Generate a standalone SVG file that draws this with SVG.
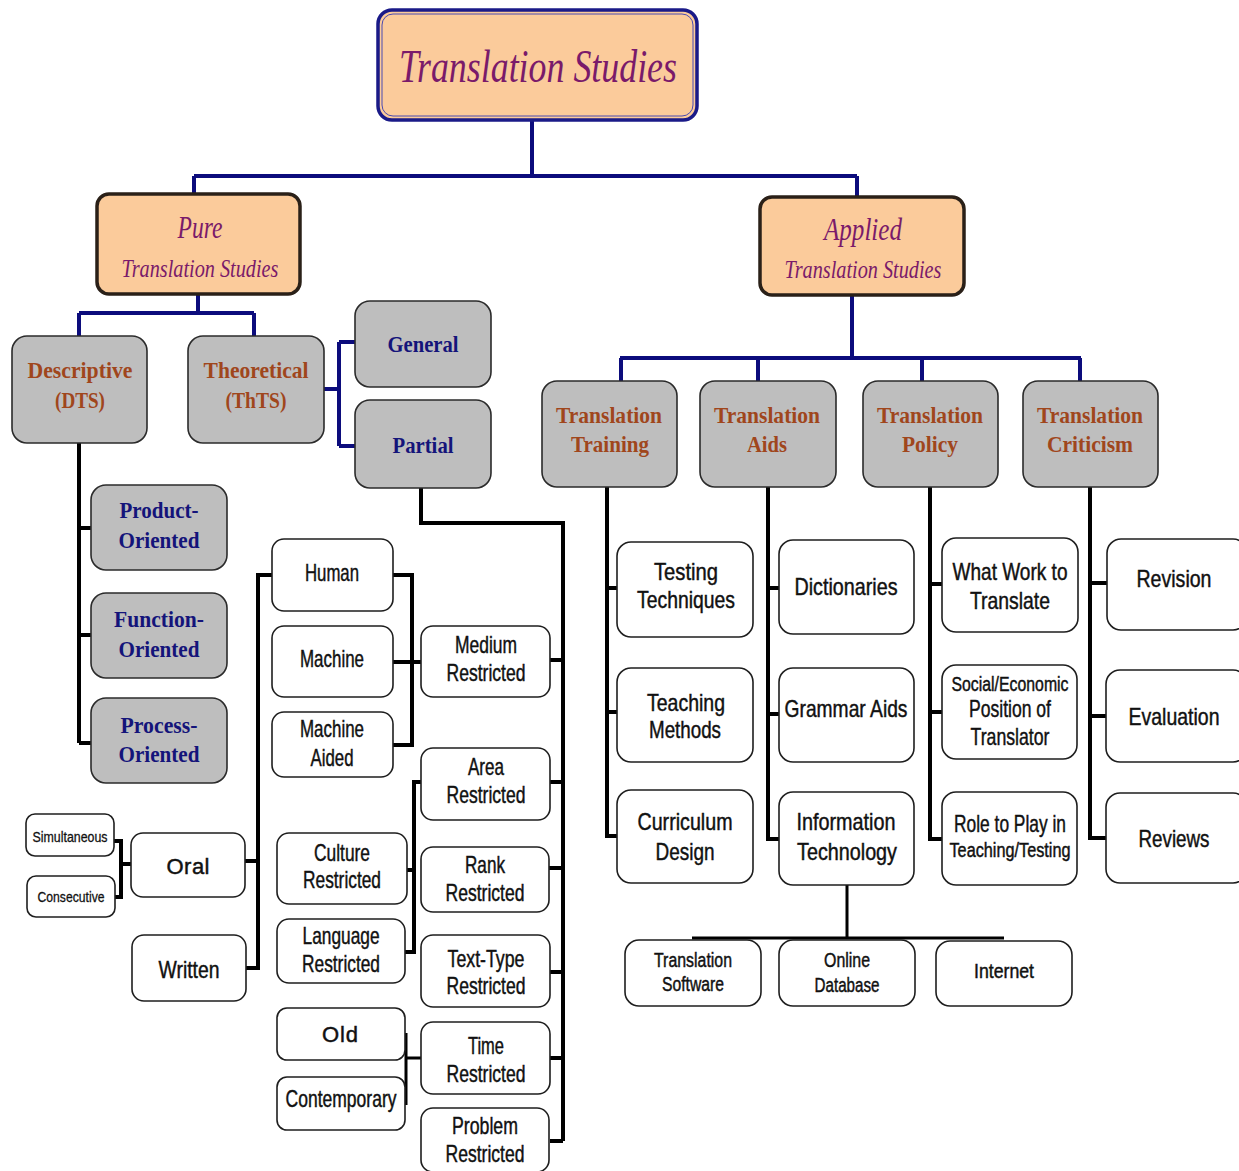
<svg xmlns="http://www.w3.org/2000/svg" width="1239" height="1171" viewBox="0 0 1239 1171">
<style>
.tc{fill:#FBCB9B;stroke:#1a1a88;stroke-width:3.5}
.tci{fill:none;stroke:#4a4ab0;stroke-width:1}
.pc{fill:#FBCB9B;stroke:#2a2018;stroke-width:3.5}
.gb{fill:#BEBEBE;stroke:#2b2b2b;stroke-width:1.6}
.wb{fill:#fff;stroke:#1e1e1e;stroke-width:1.6}
.nv{stroke:#0c0c7c;stroke-width:4;fill:none}
.bk{stroke:#000;stroke-width:4;fill:none}
.bt{stroke:#000;stroke-width:3;fill:none}
.ts{font-family:"Liberation Serif","DejaVu Serif",serif;font-style:italic;fill:#7a1a6a;text-anchor:middle}
.hb{font-family:"Liberation Serif","DejaVu Serif",serif;font-weight:bold;fill:#A0461C;text-anchor:middle;font-size:24px}
.nb{font-family:"Liberation Serif","DejaVu Serif",serif;font-weight:bold;fill:#14147a;text-anchor:middle;font-size:24px}
.wt{font-family:"Liberation Sans Narrow","Liberation Sans",sans-serif;font-size:24px;fill:#111;stroke:#111;stroke-width:0.45;text-anchor:middle}
.sm{font-size:18px}
.md{font-size:20px}
.wd{font-size:22px}
.xs{font-size:15px;stroke-width:0.3}
</style>
<rect width="1239" height="1171" fill="#fff"/>
<g id="connectors">
<path class="nv" d="M532 120 V176 M194 176 H857 M194 176 V194 M857 176 V197"/>
<path class="nv" d="M198 294 V313 M79 313 H254 M79 313 V336 M254 313 V336"/>
<path class="nv" d="M324 389 H339 M339 342 V446 M339 342 H355 M339 446 H355"/>
<path class="nv" d="M852 296 V358 M620 358 H1081 M621 358 V381 M758 358 V381 M922 358 V381 M1080 358 V381"/>
<path class="bk" d="M79 443 V743 M79 528 H92 M79 635 H92 M79 743 H92"/>
<path class="bk" d="M421 488 V523 H563 V1141 M550 660 H563 M550 782 H563 M549 868 H563 M550 972 H563 M550 1058 H563 M550 1141 H563"/>
<path class="bk" d="M393 575 H412 V745 H393 M393 662 H421"/>
<path class="bk" d="M421 782 H414 V952 H405 M407 870 H414"/>
<path class="bt" d="M406 1033 V1105 M406 1058 H421"/>
<path class="bk" d="M272 575 H258 V968 H246 M245 861 H258"/>
<path class="bk" d="M114 841 H121 V897 H115 M121 864 H132"/>
<path class="bk" d="M607 487 V836 H618 M607 588 H617 M607 712 H617"/>
<path class="bk" d="M768 487 V839 H779 M768 588 H779 M768 714 H779"/>
<path class="bk" d="M930 487 V839 H942 M930 584 H942 M930 712 H942"/>
<path class="bk" d="M1090 487 V838 H1106 M1090 583 H1107 M1090 716 H1106"/>
<path class="bt" d="M847 885 V938 M692 938 H1004"/>
</g>
<g id="translation-studies">
<rect class="tc" x="378" y="10" width="319" height="110" rx="14"/>
<rect class="tci" x="382" y="14" width="311" height="102" rx="11"/>
<text class="ts" x="538" y="82" font-size="46" textLength="278" lengthAdjust="spacingAndGlyphs">Translation Studies</text>
</g>
<g id="pure">
<rect class="pc" x="97" y="194" width="203" height="100" rx="12"/>
<text class="ts" x="200" y="238" font-size="32" textLength="45" lengthAdjust="spacingAndGlyphs">Pure</text>
<text class="ts" x="200" y="277" font-size="26" textLength="157" lengthAdjust="spacingAndGlyphs">Translation Studies</text>
</g>
<g id="applied">
<rect class="pc" x="760" y="197" width="204" height="98" rx="12"/>
<text class="ts" x="863" y="240" font-size="32" textLength="78" lengthAdjust="spacingAndGlyphs">Applied</text>
<text class="ts" x="863" y="278" font-size="26" textLength="157" lengthAdjust="spacingAndGlyphs">Translation Studies</text>
</g>
<g id="descriptive">
<rect class="gb" x="12" y="336" width="135" height="107" rx="15"/>
<text class="hb" x="80" y="378" textLength="105" lengthAdjust="spacingAndGlyphs">Descriptive</text>
<text class="hb" x="80" y="408" textLength="50" lengthAdjust="spacingAndGlyphs">(DTS)</text>
</g>
<g id="theoretical">
<rect class="gb" x="188" y="336" width="136" height="107" rx="15"/>
<text class="hb" x="256" y="378" textLength="105" lengthAdjust="spacingAndGlyphs">Theoretical</text>
<text class="hb" x="256" y="408" textLength="61" lengthAdjust="spacingAndGlyphs">(ThTS)</text>
</g>
<g id="general">
<rect class="gb" x="355" y="301" width="136" height="86" rx="15"/>
<text class="nb" x="423" y="352" textLength="71" lengthAdjust="spacingAndGlyphs">General</text>
</g>
<g id="partial">
<rect class="gb" x="355" y="400" width="136" height="88" rx="15"/>
<text class="nb" x="423" y="453" textLength="61" lengthAdjust="spacingAndGlyphs">Partial</text>
</g>
<g id="product-oriented">
<rect class="gb" x="91" y="485" width="136" height="85" rx="15"/>
<text class="nb" x="159" y="518" textLength="79" lengthAdjust="spacingAndGlyphs">Product-</text>
<text class="nb" x="159" y="548" textLength="81" lengthAdjust="spacingAndGlyphs">Oriented</text>
</g>
<g id="function-oriented">
<rect class="gb" x="91" y="593" width="136" height="85" rx="15"/>
<text class="nb" x="159" y="627" textLength="90" lengthAdjust="spacingAndGlyphs">Function-</text>
<text class="nb" x="159" y="657" textLength="81" lengthAdjust="spacingAndGlyphs">Oriented</text>
</g>
<g id="process-oriented">
<rect class="gb" x="91" y="698" width="136" height="85" rx="15"/>
<text class="nb" x="159" y="733" textLength="77" lengthAdjust="spacingAndGlyphs">Process-</text>
<text class="nb" x="159" y="762" textLength="81" lengthAdjust="spacingAndGlyphs">Oriented</text>
</g>
<g id="human">
<rect class="wb" x="272" y="539" width="121" height="72" rx="12"/>
<text class="wt" x="332" y="581" textLength="54" lengthAdjust="spacingAndGlyphs">Human</text>
</g>
<g id="machine">
<rect class="wb" x="272" y="626" width="121" height="71" rx="12"/>
<text class="wt" x="332" y="667" textLength="64" lengthAdjust="spacingAndGlyphs">Machine</text>
</g>
<g id="machine-aided">
<rect class="wb" x="272" y="712" width="121" height="65" rx="12"/>
<text class="wt" x="332" y="737" textLength="64" lengthAdjust="spacingAndGlyphs">Machine</text>
<text class="wt" x="332" y="766" textLength="43" lengthAdjust="spacingAndGlyphs">Aided</text>
</g>
<g id="medium-restricted">
<rect class="wb" x="421" y="626" width="129" height="71" rx="12"/>
<text class="wt" x="486" y="653" textLength="62" lengthAdjust="spacingAndGlyphs">Medium</text>
<text class="wt" x="486" y="681" textLength="79" lengthAdjust="spacingAndGlyphs">Restricted</text>
</g>
<g id="area-restricted">
<rect class="wb" x="421" y="748" width="129" height="72" rx="12"/>
<text class="wt" x="486" y="775" textLength="36" lengthAdjust="spacingAndGlyphs">Area</text>
<text class="wt" x="486" y="803" textLength="79" lengthAdjust="spacingAndGlyphs">Restricted</text>
</g>
<g id="rank-restricted">
<rect class="wb" x="421" y="847" width="128" height="65" rx="12"/>
<text class="wt" x="485" y="873" textLength="40" lengthAdjust="spacingAndGlyphs">Rank</text>
<text class="wt" x="485" y="901" textLength="79" lengthAdjust="spacingAndGlyphs">Restricted</text>
</g>
<g id="text-type-restricted">
<rect class="wb" x="421" y="935" width="129" height="72" rx="12"/>
<text class="wt" x="486" y="967" textLength="77" lengthAdjust="spacingAndGlyphs">Text-Type</text>
<text class="wt" x="486" y="994" textLength="79" lengthAdjust="spacingAndGlyphs">Restricted</text>
</g>
<g id="time-restricted">
<rect class="wb" x="421" y="1022" width="129" height="72" rx="12"/>
<text class="wt" x="486" y="1054" textLength="36" lengthAdjust="spacingAndGlyphs">Time</text>
<text class="wt" x="486" y="1082" textLength="79" lengthAdjust="spacingAndGlyphs">Restricted</text>
</g>
<g id="problem-restricted">
<rect class="wb" x="421" y="1108" width="128" height="64" rx="12"/>
<text class="wt" x="485" y="1134" textLength="66" lengthAdjust="spacingAndGlyphs">Problem</text>
<text class="wt" x="485" y="1162" textLength="79" lengthAdjust="spacingAndGlyphs">Restricted</text>
</g>
<g id="culture-restricted">
<rect class="wb" x="277" y="833" width="130" height="71" rx="12"/>
<text class="wt" x="342" y="861" textLength="56" lengthAdjust="spacingAndGlyphs">Culture</text>
<text class="wt" x="342" y="888" textLength="78" lengthAdjust="spacingAndGlyphs">Restricted</text>
</g>
<g id="language-restricted">
<rect class="wb" x="277" y="919" width="128" height="64" rx="12"/>
<text class="wt" x="341" y="944" textLength="77" lengthAdjust="spacingAndGlyphs">Language</text>
<text class="wt" x="341" y="972" textLength="78" lengthAdjust="spacingAndGlyphs">Restricted</text>
</g>
<g id="old">
<rect class="wb" x="277" y="1008" width="128" height="52" rx="10"/>
<text class="wt wd" x="340" y="1042" textLength="36" lengthAdjust="spacing">Old</text>
</g>
<g id="contemporary">
<rect class="wb" x="277" y="1077" width="128" height="53" rx="10"/>
<text class="wt" x="341" y="1107" textLength="111" lengthAdjust="spacingAndGlyphs">Contemporary</text>
</g>
<g id="oral">
<rect class="wb" x="131" y="833" width="114" height="64" rx="12"/>
<text class="wt wd" x="188" y="874" textLength="43" lengthAdjust="spacing">Oral</text>
</g>
<g id="written">
<rect class="wb" x="132" y="935" width="114" height="66" rx="12"/>
<text class="wt" x="189" y="978" textLength="61" lengthAdjust="spacingAndGlyphs">Written</text>
</g>
<g id="simultaneous">
<rect class="wb" x="26" y="814" width="88" height="42" rx="9"/>
<text class="wt xs" x="70" y="842" textLength="75" lengthAdjust="spacingAndGlyphs">Simultaneous</text>
</g>
<g id="consecutive">
<rect class="wb" x="27" y="876" width="88" height="41" rx="9"/>
<text class="wt xs" x="71" y="902" textLength="67" lengthAdjust="spacingAndGlyphs">Consecutive</text>
</g>
<g id="translation-training">
<rect class="gb" x="542" y="381" width="135" height="106" rx="15"/>
<text class="hb" x="609" y="423" textLength="106" lengthAdjust="spacingAndGlyphs">Translation</text>
<text class="hb" x="610" y="452" textLength="78" lengthAdjust="spacingAndGlyphs">Training</text>
</g>
<g id="translation-aids">
<rect class="gb" x="700" y="381" width="136" height="106" rx="15"/>
<text class="hb" x="767" y="423" textLength="106" lengthAdjust="spacingAndGlyphs">Translation</text>
<text class="hb" x="767" y="452" textLength="40" lengthAdjust="spacingAndGlyphs">Aids</text>
</g>
<g id="translation-policy">
<rect class="gb" x="863" y="381" width="135" height="106" rx="15"/>
<text class="hb" x="930" y="423" textLength="106" lengthAdjust="spacingAndGlyphs">Translation</text>
<text class="hb" x="930" y="452" textLength="56" lengthAdjust="spacingAndGlyphs">Policy</text>
</g>
<g id="translation-criticism">
<rect class="gb" x="1023" y="381" width="135" height="106" rx="15"/>
<text class="hb" x="1090" y="423" textLength="106" lengthAdjust="spacingAndGlyphs">Translation</text>
<text class="hb" x="1090" y="452" textLength="86" lengthAdjust="spacingAndGlyphs">Criticism</text>
</g>
<g id="testing-techniques">
<rect class="wb" x="617" y="542" width="136" height="95" rx="14"/>
<text class="wt" x="686" y="580" textLength="64" lengthAdjust="spacingAndGlyphs">Testing</text>
<text class="wt" x="686" y="608" textLength="98" lengthAdjust="spacingAndGlyphs">Techniques</text>
</g>
<g id="teaching-methods">
<rect class="wb" x="617" y="668" width="136" height="94" rx="14"/>
<text class="wt" x="686" y="711" textLength="78" lengthAdjust="spacingAndGlyphs">Teaching</text>
<text class="wt" x="685" y="738" textLength="72" lengthAdjust="spacingAndGlyphs">Methods</text>
</g>
<g id="curriculum-design">
<rect class="wb" x="617" y="790" width="136" height="93" rx="14"/>
<text class="wt" x="685" y="830" textLength="95" lengthAdjust="spacingAndGlyphs">Curriculum</text>
<text class="wt" x="685" y="860" textLength="59" lengthAdjust="spacingAndGlyphs">Design</text>
</g>
<g id="dictionaries">
<rect class="wb" x="779" y="540" width="135" height="94" rx="14"/>
<text class="wt" x="846" y="595" textLength="103" lengthAdjust="spacingAndGlyphs">Dictionaries</text>
</g>
<g id="grammar-aids">
<rect class="wb" x="779" y="668" width="135" height="94" rx="14"/>
<text class="wt" x="846" y="717" textLength="123" lengthAdjust="spacingAndGlyphs">Grammar Aids</text>
</g>
<g id="information-technology">
<rect class="wb" x="779" y="792" width="135" height="93" rx="14"/>
<text class="wt" x="846" y="830" textLength="99" lengthAdjust="spacingAndGlyphs">Information</text>
<text class="wt" x="847" y="860" textLength="100" lengthAdjust="spacingAndGlyphs">Technology</text>
</g>
<g id="what-work-to-translate">
<rect class="wb" x="942" y="538" width="136" height="94" rx="14"/>
<text class="wt" x="1010" y="580" textLength="115" lengthAdjust="spacingAndGlyphs">What Work to</text>
<text class="wt" x="1010" y="609" textLength="80" lengthAdjust="spacingAndGlyphs">Translate</text>
</g>
<g id="social-economic-position">
<rect class="wb" x="942" y="665" width="135" height="94" rx="14"/>
<text class="wt md" x="1010" y="691" textLength="117" lengthAdjust="spacingAndGlyphs">Social/Economic</text>
<text class="wt" x="1010" y="717" textLength="82" lengthAdjust="spacingAndGlyphs">Position of</text>
<text class="wt" x="1010" y="745" textLength="79" lengthAdjust="spacingAndGlyphs">Translator</text>
</g>
<g id="role-to-play">
<rect class="wb" x="942" y="792" width="135" height="93" rx="14"/>
<text class="wt" x="1010" y="832" textLength="112" lengthAdjust="spacingAndGlyphs">Role to Play in</text>
<text class="wt md" x="1010" y="857" textLength="121" lengthAdjust="spacingAndGlyphs">Teaching/Testing</text>
</g>
<g id="revision">
<rect class="wb" x="1107" y="539" width="140" height="91" rx="14"/>
<text class="wt" x="1174" y="587" textLength="75" lengthAdjust="spacingAndGlyphs">Revision</text>
</g>
<g id="evaluation">
<rect class="wb" x="1106" y="670" width="141" height="92" rx="14"/>
<text class="wt" x="1174" y="725" textLength="91" lengthAdjust="spacingAndGlyphs">Evaluation</text>
</g>
<g id="reviews">
<rect class="wb" x="1106" y="793" width="141" height="90" rx="14"/>
<text class="wt" x="1174" y="847" textLength="71" lengthAdjust="spacingAndGlyphs">Reviews</text>
</g>
<g id="translation-software">
<rect class="wb" x="625" y="940" width="136" height="66" rx="14"/>
<text class="wt md" x="693" y="967" textLength="78" lengthAdjust="spacingAndGlyphs">Translation</text>
<text class="wt md" x="693" y="991" textLength="62" lengthAdjust="spacingAndGlyphs">Software</text>
</g>
<g id="online-database">
<rect class="wb" x="779" y="940" width="136" height="66" rx="14"/>
<text class="wt md" x="847" y="967" textLength="46" lengthAdjust="spacingAndGlyphs">Online</text>
<text class="wt md" x="847" y="992" textLength="65" lengthAdjust="spacingAndGlyphs">Database</text>
</g>
<g id="internet">
<rect class="wb" x="936" y="941" width="136" height="65" rx="14"/>
<text class="wt md" x="1004" y="978" textLength="60" lengthAdjust="spacingAndGlyphs">Internet</text>
</g>
</svg>
